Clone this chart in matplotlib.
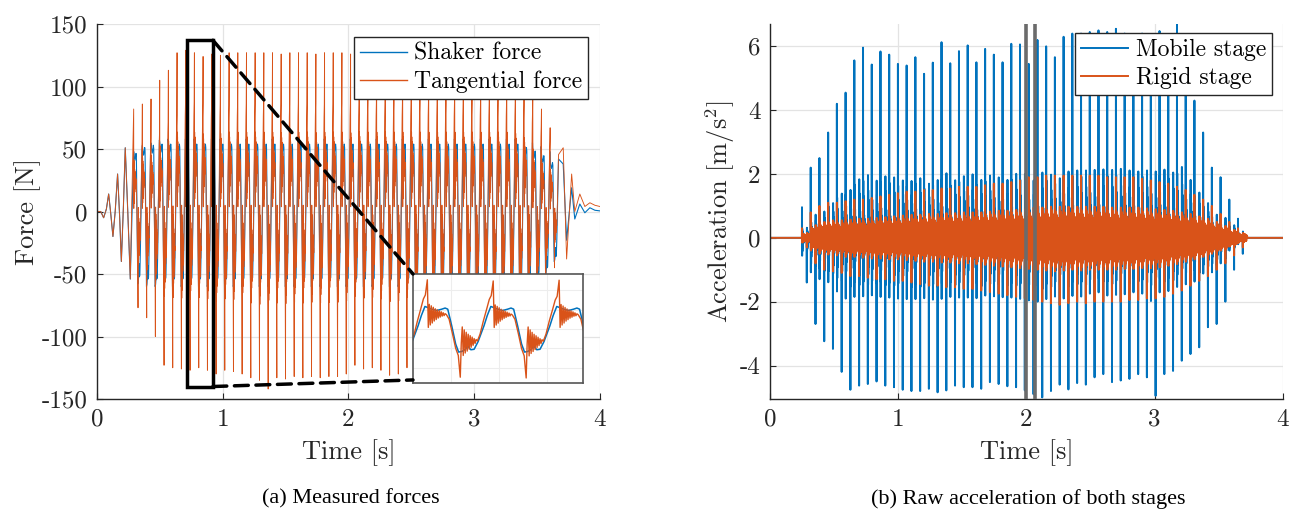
import numpy as np
import matplotlib
matplotlib.use('Agg')
import matplotlib.pyplot as plt
from matplotlib.patches import Rectangle, ConnectionPatch

plt.rcParams['font.family'] = ['cmr10', 'DejaVu Serif']
plt.rcParams['mathtext.fontset'] = 'cm'
plt.rcParams['axes.unicode_minus'] = False

BLUE = '#0072BD'
ORANGE = '#D95319'

# ---------------- (a) forces ----------------
# start-up oscillation, both forces together
early_t = [0.0, 0.03, 0.053, 0.075, 0.093, 0.11, 0.127, 0.145, 0.164, 0.18, 0.194, 0.21, 0.225, 0.245, 0.265]
early_f = [0, 0, -5, 2, 14, -2, -20, 0, 30, -3, -40, 3, 51, 0, -54]

# time of each upward spike of the tangential force
cycle_t = [0.292, 0.361, 0.430, 0.499, 0.568, 0.637, 0.706, 0.775, 0.844, 0.913,
           0.982, 1.051, 1.120, 1.189, 1.258, 1.327, 1.396, 1.465, 1.534, 1.603,
           1.672, 1.741, 1.810, 1.879, 1.948, 2.017, 2.086, 2.155, 2.224, 2.293,
           2.362, 2.431, 2.500, 2.569, 2.638, 2.707, 2.776, 2.845, 2.914, 2.983,
           3.052, 3.121, 3.190, 3.259, 3.328, 3.397, 3.466, 3.535, 3.604]
tang_hi = [82, 86, 90, 105, 113, 127, 129, 127, 124, 126,
           125, 127, 127, 127, 127, 127, 127, 126, 127, 127,
           127, 126, 127, 127, 127, 126, 128, 127, 127, 127,
           127, 127, 127, 127, 127, 127, 127, 127, 127, 127,
           127, 127, 127, 127, 125, 118, 100, 82, 67]
tang_lo = [-77, -85, -100, -123, -125, -126, -127, -125, -127, -130,
           -127, -128, -130, -133, -135, -142, -133, -134, -132, -133,
           -132, -133, -132, -132, -130, -123, -126, -125, -127, -131,
           -130, -125, -128, -128, -128, -128, -128, -128, -128, -128,
           -128, -128, -128, -128, -125, -115, -95, -70, -45]
shaker_hi = [50, 55, 57, 58, 58, 58, 58, 58, 58, 58,
             58, 58, 58, 58, 58, 58, 58, 58, 58, 58,
             58, 58, 58, 58, 58, 58, 58, 58, 58, 58,
             58, 58, 58, 58, 58, 58, 58, 58, 58, 58,
             58, 58, 58, 58, 58, 55, 52, 48, 42]
shaker_lo = [-58, -60, -60, -60, -60, -60, -60, -60, -60, -60,
             -60, -60, -60, -60, -60, -60, -60, -60, -60, -60,
             -60, -60, -60, -60, -60, -60, -60, -60, -60, -60,
             -60, -60, -60, -60, -60, -60, -60, -60, -60, -60,
             -60, -60, -60, -60, -60, -58, -55, -50, -40]

# one period as seen in the zoomed inset (fraction of period, fraction of peak)
tang_phase = [0.0, 0.015, 0.03, 0.045, 0.06, 0.075, 0.09, 0.105, 0.12, 0.135, 0.15, 0.165,
              0.18, 0.195, 0.21, 0.225, 0.24, 0.255, 0.27, 0.29, 0.33, 0.38, 0.43, 0.47, 0.50,
              0.515, 0.53, 0.545, 0.56, 0.575, 0.59, 0.605, 0.62, 0.635, 0.65, 0.665, 0.68,
              0.695, 0.71, 0.725, 0.74, 0.76, 0.80, 0.85, 0.90, 0.94, 0.97]
tang_shape = [1.0, 0.03, 0.50, 0.08, 0.47, 0.12, 0.44, 0.16, 0.41, 0.19, 0.39, 0.22,
              0.37, 0.24, 0.35, 0.26, 0.33, 0.27, 0.31, 0.29, 0.20, -0.09, -0.40, -0.55, -1.0,
              -0.30, 0.04, -0.55, -0.02, -0.50, -0.07, -0.46, -0.11, -0.42, -0.14, -0.38, -0.17,
              -0.34, -0.20, -0.30, -0.22, -0.25, -0.11, 0.16, 0.40, 0.60, 0.68]
shaker_phase = [0.0, 0.066, 0.143, 0.22, 0.27, 0.31, 0.37, 0.43, 0.475, 0.526, 0.58, 0.61,
                0.66, 0.71, 0.77, 0.86, 0.91, 0.964]
shaker_shape = [0.96, 0.88, 0.82, 0.88, 0.93, 0.88, 0.14, -0.65, -1.0, -0.97, -0.88, -0.72,
                -0.9, -0.88, -0.55, 0.14, 0.6, 1.0]

# run-out after the excitation stops
end_t = [3.708, 3.735, 3.775, 3.80, 3.84, 3.88, 3.92, 3.96, 4.0]
end_tang = [51, -38, 30, 0, 14, 4, 7, 5, 4]
end_shaker = [38, -23, 19, -6, 6, -1, 3, 1, 0.5]

# ---------------- (b) accelerations ----------------
acc_t = [0.249, 0.317, 0.385, 0.453, 0.521, 0.589, 0.657, 0.725, 0.793, 0.861,
         0.929, 0.997, 1.065, 1.133, 1.201, 1.269, 1.337, 1.405, 1.473, 1.541,
         1.609, 1.677, 1.745, 1.813, 1.881, 1.949, 2.017, 2.085, 2.153, 2.221,
         2.289, 2.357, 2.425, 2.493, 2.561, 2.629, 2.697, 2.765, 2.833, 2.901,
         2.969, 3.037, 3.105, 3.173, 3.241, 3.309, 3.377, 3.445, 3.513, 3.581, 3.649]
mobile_hi = [0.96, 2.2, 2.5, 3.3, 4.2, 4.55, 5.56, 5.96, 5.43, 5.84,
             5.74, 5.45, 5.4, 5.66, 5.14, 5.49, 6.13, 5.47, 5.85, 6.03,
             5.5, 5.92, 5.74, 5.5, 6.08, 6.06, 5.45, 6.2, 6.0, 5.66,
             6.3, 6.4, 6.4, 6.45, 6.5, 6.45, 6.55, 6.4, 6.3, 6.4,
             6.3, 6.48, 6.2, 6.73, 5.5, 4.3, 3.3, 2.2, 1.9, 1.2, 0.6]
mobile_lo = [-1.4, -2.7, -3.24, -3.48, -4.2, -4.76, -4.63, -4.58, -4.5, -4.63,
             -4.68, -4.76, -4.8, -4.8, -4.73, -4.84, -4.78, -4.63, -4.68, -4.68,
             -4.73, -4.52, -4.58, -4.65, -4.68, -4.78, -4.9, -5.0, -4.8, -4.6,
             -4.75, -4.55, -4.6, -4.37, -4.27, -4.52, -4.47, -4.42, -4.27, -4.37,
             -4.95, -4.27, -4.17, -3.85, -3.64, -3.43, -2.8, -2.7, -2.0, -1.0, -0.5]
rigid_hi = [0.3, 0.8, 1.0, 1.1, 1.1, 1.15, 1.2, 1.2, 1.25, 1.3,
            1.35, 1.4, 1.45, 1.45, 1.5, 1.5, 1.55, 1.55, 1.6, 1.6,
            1.6, 1.65, 1.7, 1.7, 1.75, 1.8, 1.9, 1.9, 1.95, 1.95,
            1.95, 1.95, 1.95, 1.95, 1.95, 1.9, 1.9, 1.9, 1.9, 1.85,
            1.8, 1.75, 1.7, 1.6, 1.5, 1.35, 1.2, 1.0, 0.75, 0.5, 0.3]
rigid_lo = [-0.3, -0.8, -1.0, -1.05, -1.1, -1.2, -1.2, -1.25, -1.3, -1.3,
            -1.35, -1.35, -1.4, -1.45, -1.5, -1.5, -1.55, -1.55, -1.6, -1.6,
            -1.65, -1.7, -1.75, -1.8, -1.85, -1.9, -1.95, -2.0, -2.05, -2.1,
            -2.05, -2.0, -2.05, -2.0, -2.0, -2.0, -2.0, -1.95, -1.95, -1.9,
            -1.9, -1.85, -1.75, -1.65, -1.5, -1.35, -1.2, -1.0, -0.8, -0.55, -0.3]

mobile_phase = [0.0, 0.01, 0.025, 0.04, 0.055, 0.07, 0.085, 0.10, 0.12, 0.14, 0.16, 0.19, 0.22,
                0.26, 0.30, 0.34, 0.38, 0.42, 0.46, 0.50, 0.54, 0.56, 0.575, 0.59, 0.605, 0.62,
                0.64, 0.66, 0.68, 0.71, 0.74, 0.78, 0.82, 0.86, 0.90, 0.94, 0.98]
mobile_shape = [0, 1.0, -0.4, 0.3, -0.3, 0.22, -0.22, 0.16, -0.16, 0.12, -0.12, 0.1, -0.1,
                0.08, -0.08, 0.07, -0.07, 0.06, -0.06, 0.05, -0.05, -1.0, 0.33, -0.32, 0.25, -0.25,
                0.2, -0.2, 0.15, -0.14, 0.11, -0.1, 0.08, -0.07, 0.06, -0.05, 0.03]
rigid_phase = [0.0, 0.01, 0.03, 0.05, 0.07, 0.09, 0.11, 0.13, 0.15, 0.17, 0.19, 0.21, 0.23, 0.25,
               0.27, 0.29, 0.31, 0.33, 0.35, 0.37, 0.39, 0.41, 0.43, 0.45, 0.47, 0.49, 0.51, 0.53,
               0.56, 0.58, 0.60, 0.62, 0.64, 0.66, 0.68, 0.70, 0.72, 0.74, 0.76, 0.78, 0.80, 0.82,
               0.84, 0.86, 0.88, 0.90, 0.92, 0.94, 0.96, 0.98]
rigid_shape = [0, 1.0, -0.5, 0.45, -0.45, 0.42, -0.42, 0.4, -0.4, 0.38, -0.38, 0.36, -0.36, 0.34,
               -0.34, 0.33, -0.33, 0.32, -0.32, 0.31, -0.31, 0.3, -0.3, 0.3, -0.28, 0.28, -0.28, 0.28,
               -1.0, 0.5, -0.45, 0.45, -0.42, 0.42, -0.4, 0.4, -0.38, 0.38, -0.36, 0.36, -0.34, 0.34,
               -0.33, 0.33, -0.32, 0.32, -0.31, 0.31, -0.3, 0.28]

zoom_lines = [2.0, 2.065]


def build(times, hi, lo, phase, shape):
    # chain one read-off period per cycle, scaled to that cycle's peaks
    xs, ys = [], []
    ph = np.asarray(phase)
    sh = np.asarray(shape)
    for k, t0 in enumerate(times):
        per = times[k + 1] - t0 if k + 1 < len(times) else t0 - times[k - 1]
        xs.append(t0 + ph * per)
        ys.append(np.where(sh >= 0, sh * hi[k], -sh * lo[k]))
    return np.concatenate(xs), np.concatenate(ys)


tx, ty = build(cycle_t, tang_hi, tang_lo, tang_phase, tang_shape)
sx, sy = build(cycle_t, shaker_hi, shaker_lo, shaker_phase, shaker_shape)
tang_x = np.concatenate([early_t, tx, end_t])
tang_y = np.concatenate([early_f, ty, end_tang])
shak_x = np.concatenate([early_t, sx, end_t])
shak_y = np.concatenate([early_f, sy, end_shaker])

mx, my = build(acc_t, mobile_hi, mobile_lo, mobile_phase, mobile_shape)
rx, ry = build(acc_t, rigid_hi, rigid_lo, rigid_phase, rigid_shape)
mob_x = np.concatenate([[0.0], mx, [mx[-1] + 0.01, 4.0]])
mob_y = np.concatenate([[0.0], my, [0.0, 0.0]])
rig_x = np.concatenate([[0.0], rx, [rx[-1] + 0.01, 4.0]])
rig_y = np.concatenate([[0.0], ry, [0.0, 0.0]])


def style(ax):
    for s in ['top', 'right']:
        ax.spines[s].set_visible(False)
    for s in ['left', 'bottom']:
        ax.spines[s].set_color('#262626')
        ax.spines[s].set_linewidth(1.0)
    ax.grid(True, color='#e3e3e3', lw=0.9)
    ax.set_axisbelow(True)
    ax.tick_params(direction='in', length=4, width=0.8, color='#262626',
                   labelsize=18, labelcolor='#262626', pad=7)


fig = plt.figure(figsize=(12.98, 5.14), dpi=100)

# ---- left panel ----
ax1 = fig.add_axes([0.0747, 0.2237, 0.3875, 0.7296])
style(ax1)
ax1.plot(shak_x, shak_y, color=BLUE, lw=0.8, label='Shaker force')
ax1.plot(tang_x, tang_y, color=ORANGE, lw=0.65, label='Tangential force')
ax1.set_xlim(0, 4)
ax1.set_ylim(-150, 150)
ax1.set_xticks([0, 1, 2, 3, 4])
ax1.set_xticklabels(['0', '1', '2', '3', '4'])
ax1.set_yticks([-150, -100, -50, 0, 50, 100, 150])
ax1.set_yticklabels(['-150', '-100', '-50', '0', '50', '100', '150'])
ax1.set_xlabel('Time [s]', fontsize=19, color='#262626', labelpad=6)
ax1.set_ylabel('Force [N]', fontsize=19, color='#262626', labelpad=0)
leg = ax1.legend(loc='upper right', bbox_to_anchor=(0.976, 0.966), borderaxespad=0,
                 fontsize=17, frameon=True, fancybox=False, framealpha=1,
                 edgecolor='#262626', handlelength=2.0, handletextpad=0.3,
                 borderpad=0.25, labelspacing=0.25)
leg.get_frame().set_linewidth(1.0)
for h in leg.get_lines():
    h.set_linewidth(1.0)

box = Rectangle((0.716, -140), 0.206, 277, fill=False, ec='black', lw=2.5, zorder=5)
ax1.add_patch(box)

axin = fig.add_axes([413 / 1298, 1 - 383 / 514, 170 / 1298, 109 / 514])
axin.plot(shak_x, shak_y, color=BLUE, lw=1.1)
axin.plot(tang_x, tang_y, color=ORANGE, lw=1.0)
axin.set_xlim(0.760, 0.938)
axin.set_ylim(-140, 142)
axin.set_xticks([0.8, 0.85, 0.9])
axin.set_yticks([-100, -50, 0, 50, 100])
axin.tick_params(length=0, labelbottom=False, labelleft=False)
axin.grid(True, color='#ededed', lw=0.8)
for s in axin.spines.values():
    s.set_color('#555555')
    s.set_linewidth(1.2)

for xyA, xyB in [((0.922, 137), (0, 1)), ((0.922, -140), (0, 0.028))]:
    con = ConnectionPatch(xyA=xyA, coordsA=ax1.transData, xyB=xyB, coordsB=axin.transAxes,
                          color='black', lw=2.5, linestyle=(0, (4, 2.2)), zorder=6)
    fig.add_artist(con)

# ---- right panel ----
ax2 = fig.add_axes([0.5932, 0.2237, 0.3952, 0.7296])
style(ax2)
ax2.plot(mob_x, mob_y, color=BLUE, lw=1.4, label='Mobile stage')
ax2.plot(rig_x, rig_y, color=ORANGE, lw=1.4, label='Rigid stage')
for xv in zoom_lines:
    ax2.axvline(xv, color='#6b6b6b', lw=2.6, zorder=4)
ax2.set_xlim(0, 4)
ax2.set_ylim(-5.05, 6.7)
ax2.set_xticks([0, 1, 2, 3, 4])
ax2.set_xticklabels(['0', '1', '2', '3', '4'])
ax2.set_yticks([-4, -2, 0, 2, 4, 6])
ax2.set_yticklabels(['-4', '-2', '0', '2', '4', '6'])
ax2.set_xlabel('Time [s]', fontsize=19, color='#262626', labelpad=6)
ax2.set_ylabel(r'Acceleration [m/s$^2$]', fontsize=19, color='#262626', labelpad=2)
leg2 = ax2.legend(loc='upper right', bbox_to_anchor=(0.978, 0.975), borderaxespad=0,
                  fontsize=17, frameon=True, fancybox=False, framealpha=1,
                  edgecolor='#262626', handlelength=2.0, handletextpad=0.3,
                  borderpad=0.25, labelspacing=0.25)
leg2.get_frame().set_linewidth(1.0)
leg2.set_zorder(10)

fig.text(351 / 1298, 1 - 499 / 514, '(a) Measured forces', ha='center', va='center',
         fontsize=16, family='Liberation Serif')
fig.text(1028 / 1298, 1 - 499 / 514, '(b) Raw acceleration of both stages', ha='center',
         va='center', fontsize=16, family='Liberation Serif')

fig.savefig('out.png', dpi=100)
